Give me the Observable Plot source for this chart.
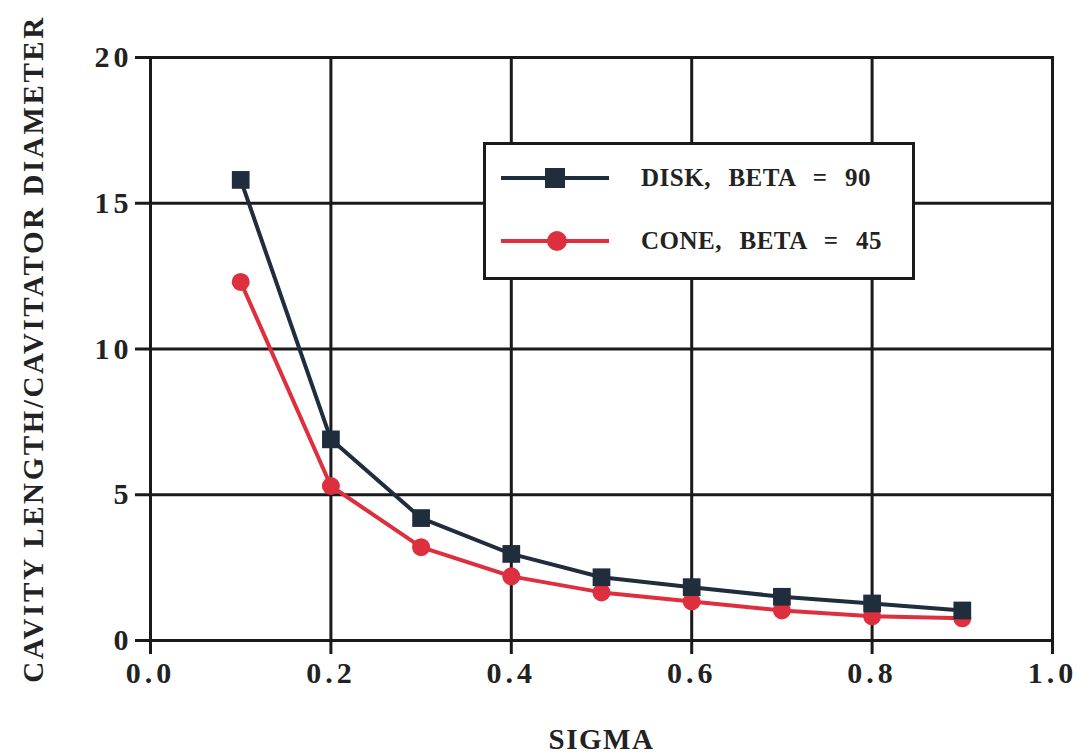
<!DOCTYPE html>
<html>
<head>
<meta charset="utf-8">
<script src="https://cdn.jsdelivr.net/npm/d3@7"></script>
<script src="https://cdn.jsdelivr.net/npm/@observablehq/plot@0.6"></script>
<style>
  body { margin: 0; background: #fff; }
  #wrap { position: relative; width: 1079px; height: 753px; font-family: "Liberation Serif", "Times New Roman", serif; }
  #wrap svg text { font-weight: bold; }
  g[aria-label="x-axis tick label"] text, g[aria-label="y-axis tick label"] text { letter-spacing: 4px; }
  g[aria-label="y-axis label"] text { letter-spacing: 2.6px; }
  g[aria-label="x-axis label"] text { letter-spacing: 1.5px; }
  #legend { position: absolute; left: 483px; top: 142px; width: 426px; height: 132px; border: 3px solid #1a1a1a; background: #fff; }
  .row { position: absolute; left: 0; display: flex; align-items: center; }
  .row span { font-weight: bold; font-size: 25px; color: #222; letter-spacing: 0.5px; word-spacing: 2px; white-space: pre; margin-left: 30px; }
</style>
</head>
<body>
<div id="wrap"></div>
<script>
const sigma = [0.1, 0.2, 0.3, 0.4, 0.5, 0.6, 0.7, 0.8, 0.9];
const disk = [15.8, 6.9, 4.2, 2.97, 2.17, 1.83, 1.5, 1.27, 1.03];
const cone = [12.3, 5.3, 3.2, 2.2, 1.65, 1.34, 1.03, 0.83, 0.76];
const xTicks = [0, 0.2, 0.4, 0.6, 0.8, 1.0];
const yTicks = [0, 5, 10, 15, 20];
const seriesNames = ["DISK,  BETA  =  90", "CONE,  BETA  =  45"];
const colors = ["#1f2d3d", "#dd2f3e"];

const diskData = sigma.map((s, i) => ({s, v: disk[i]}));
const coneData = sigma.map((s, i) => ({s, v: cone[i]}));

const chart = Plot.plot({
  width: 1079,
  height: 753,
  marginLeft: 150,
  marginTop: 57,
  marginRight: 27,
  marginBottom: 113,
  style: { fontFamily: "Liberation Serif, Times New Roman, serif", fontWeight: "bold", color: "#222", background: "#fff" },
  x: { domain: [0, 1], ticks: xTicks },
  y: { domain: [0, 20], ticks: yTicks },
  marks: [
    Plot.gridX(xTicks, { stroke: "#1a1a1a", strokeOpacity: 1, strokeWidth: 3 }),
    Plot.gridY(yTicks, { stroke: "#1a1a1a", strokeOpacity: 1, strokeWidth: 3 }),
    Plot.frame({ stroke: "#1a1a1a", strokeWidth: 3 }),
    Plot.axisX(xTicks, { tickSize: 14, strokeWidth: 3, stroke: "#1a1a1a", tickPadding: 7, fontSize: 30, tickFormat: d => d.toFixed(1),
      label: "SIGMA", labelAnchor: "center", labelArrow: "none", labelOffset: 108 }),
    Plot.axisY(yTicks, { tickSize: 15, strokeWidth: 3, stroke: "#1a1a1a", tickPadding: 3, fontSize: 30, tickFormat: d => String(d),
      label: "CAVITY LENGTH/CAVITATOR DIAMETER", labelAnchor: "center", labelArrow: "none", labelOffset: 128 }),
    Plot.line(diskData, { x: "s", y: "v", stroke: colors[0], strokeWidth: 4 }),
    Plot.line(coneData, { x: "s", y: "v", stroke: colors[1], strokeWidth: 4 }),
    Plot.dot(coneData, { x: "s", y: "v", fill: colors[1], r: 9 }),
    Plot.dot(diskData, { x: "s", y: "v", fill: colors[0], symbol: "square", r: 10 })
  ]
});
chart.querySelectorAll('g[aria-label="y-axis label"] text').forEach(t => t.setAttribute("font-size", 29));
chart.querySelectorAll('g[aria-label="x-axis label"] text').forEach(t => t.setAttribute("font-size", 29));
const wrap = document.getElementById("wrap");
wrap.appendChild(chart);

const legend = document.createElement("div");
legend.id = "legend";
const rowsTop = [13, 76];
seriesNames.forEach((name, i) => {
  const row = document.createElement("div");
  row.className = "row";
  row.style.top = rowsTop[i] + "px";
  row.style.left = "15px";
  const sw = d3.create("svg").attr("width", 110).attr("height", 40);
  sw.append("line").attr("x1", 0).attr("x2", 108).attr("y1", 20).attr("y2", 20).attr("stroke", colors[i]).attr("stroke-width", 4);
  if (i === 0) sw.append("rect").attr("x", 44).attr("y", 10).attr("width", 20).attr("height", 20).attr("fill", colors[i]);
  else sw.append("circle").attr("cx", 56).attr("cy", 20).attr("r", 10).attr("fill", colors[i]);
  row.appendChild(sw.node());
  const sp = document.createElement("span");
  sp.textContent = name;
  row.appendChild(sp);
  legend.appendChild(row);
});
wrap.appendChild(legend);
</script>
</body>
</html>
